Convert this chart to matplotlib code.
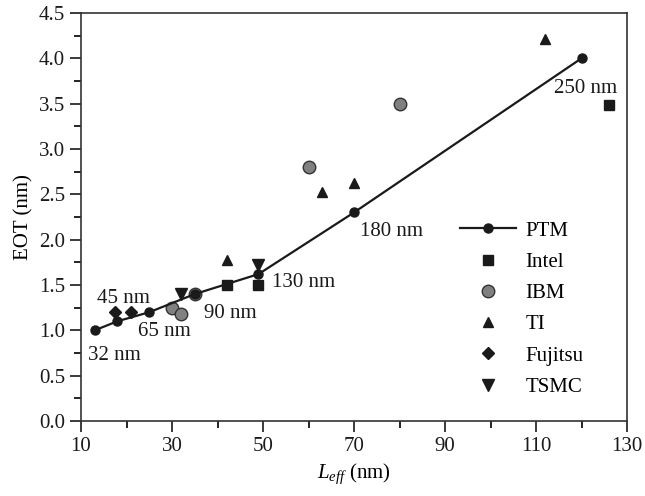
import matplotlib
matplotlib.use("Agg")
import matplotlib.pyplot as plt
from matplotlib.ticker import FormatStrFormatter, MultipleLocator

plt.rcParams['font.family'] = ['Liberation Serif', 'DejaVu Serif']
plt.rcParams['mathtext.fontset'] = 'custom'
plt.rcParams['mathtext.rm'] = 'Liberation Serif'
plt.rcParams['mathtext.it'] = 'Liberation Serif:italic'

# PTM predictive technology nodes
ptm_x = [13, 18, 25, 35, 49, 70, 120]
ptm_y = [1.0, 1.1, 1.2, 1.4, 1.62, 2.3, 4.0]
node_labels = ["32 nm", "45 nm", "65 nm", "90 nm", "130 nm", "180 nm", "250 nm"]

intel_x = [42, 49, 126]
intel_y = [1.5, 1.5, 3.48]
ibm_x = [30, 32, 35, 60, 80]
ibm_y = [1.25, 1.18, 1.4, 2.8, 3.5]
ti_x = [42, 63, 70, 112]
ti_y = [1.78, 2.53, 2.63, 4.21]
fujitsu_x = [17.5, 21]
fujitsu_y = [1.2, 1.2]
tsmc_x = [32, 49]
tsmc_y = [1.4, 1.72]

x_ticks = [10, 30, 50, 70, 90, 110, 130]

fig = plt.figure(figsize=(6.45, 4.96), dpi=100)
ax = fig.add_axes([0.1256, 0.1512, 0.8465, 0.8226])

ax.plot(intel_x, intel_y, 's', color='#1a1a1a', ms=6.5, ls='none', label='Intel')
ax.plot(ibm_x, ibm_y, 'o', mfc='#808080', mec='#333333', mew=1.0, ms=9, ls='none', label='IBM')
ax.plot(ti_x, ti_y, '^', color='#1a1a1a', ms=7.5, ls='none', label='TI')
ax.plot(fujitsu_x, fujitsu_y, 'D', color='#1a1a1a', ms=6, ls='none', label='Fujitsu')
ax.plot(tsmc_x, tsmc_y, 'v', color='#1a1a1a', ms=8, ls='none', label='TSMC')
ax.plot(ptm_x, ptm_y, '-o', color='#1a1a1a', lw=1.6, ms=6.5, label='PTM')

# node labels next to PTM points
offsets = [(-5, -21), (-15, 13), (-8, -17), (7, -17), (10, -9), (4, -17), (-20, -25)]
for x, y, t, (dx, dy) in zip(ptm_x, ptm_y, node_labels, offsets):
    ax.annotate(t, (x, y), xytext=(dx, dy), textcoords='offset points',
                fontsize=15, color='#1a1a1a')

handles, labels = ax.get_legend_handles_labels()
order = [5, 0, 1, 2, 3, 4]
ax.legend([handles[i] for i in order], [labels[i] for i in order],
          loc='upper left', bbox_to_anchor=(0.694, 0.49), frameon=False,
          borderpad=0, borderaxespad=0,
          fontsize=15, labelspacing=0.56, handlelength=2.7, handletextpad=0.45)

ax.set_xlim(10, 130)
ax.set_ylim(0, 4.5)
ax.set_xticks(x_ticks)
ax.set_xticks([20, 40, 60, 80, 100, 120], minor=True)
ax.yaxis.set_major_locator(MultipleLocator(0.5))
ax.yaxis.set_minor_locator(MultipleLocator(0.25))
ax.yaxis.set_major_formatter(FormatStrFormatter('%.1f'))
ax.tick_params(which='major', direction='out', length=8, width=1.2, labelsize=15, colors='#1a1a1a')
ax.tick_params(which='minor', direction='out', length=5, width=1.2)
ax.tick_params(top=False, right=False)
for s in ax.spines.values():
    s.set_linewidth(1.2)
    s.set_color('#333333')

ax.set_xlabel(r'$L_{eff}$ (nm)', fontsize=15)
ax.set_ylabel('EOT (nm)', fontsize=15)

fig.savefig('out.png', dpi=100)
